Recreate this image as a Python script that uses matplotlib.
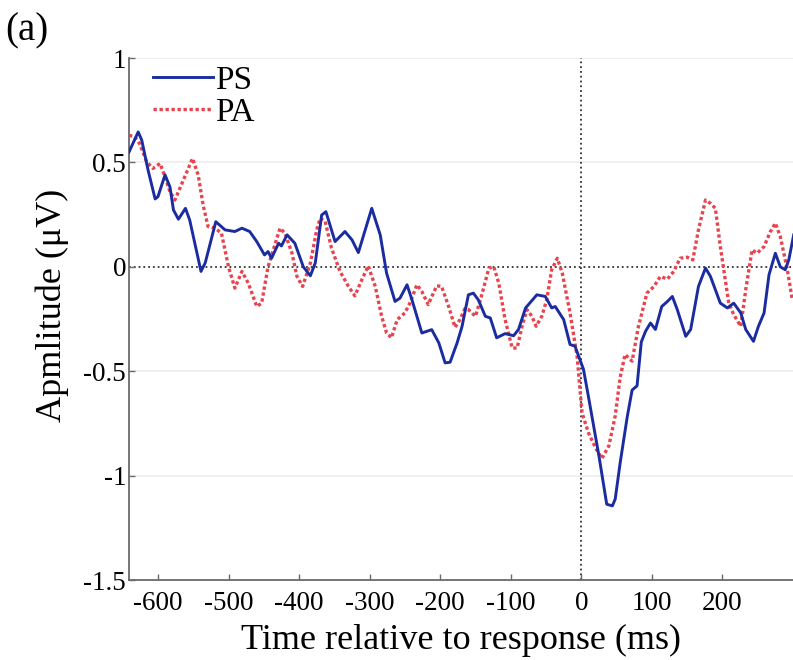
import matplotlib
matplotlib.use("Agg")
import matplotlib.pyplot as plt

plt.rcParams["font.family"] = ["Liberation Serif", "DejaVu Serif"]
plt.rcParams["axes.unicode_minus"] = False

# PS waveform (ms, uV)
ps_t = [-641, -628, -623, -614, -604, -600, -590, -583, -578, -571, -561, -555,
        -539, -533, -518, -505, -491, -481, -470, -460, -449, -444, -439, -429,
        -425, -417, -406, -394, -384, -377, -368, -362, -349, -335, -325, -316,
        -297, -285, -276, -264, -257, -247, -240, -226, -212, -202, -193, -186,
        -176, -169, -160, -153, -146, -136, -129, -120, -108, -96, -89, -79,
        -63, -51, -42, -37, -25, -16, -9, 3, 10, 25, 36, 44, 48, 55, 65, 72,
        79, 85, 91, 98, 105, 114, 122, 129, 136, 148, 155, 166, 176, 183, 197,
        207, 216, 226, 233, 244, 251, 259, 266, 275, 282, 289, 294, 301]
ps_v = [0.55, 0.646, 0.607, 0.463, 0.325, 0.336, 0.44, 0.383, 0.272, 0.228, 0.28, 0.224,
        -0.022, 0.019, 0.216, 0.177, 0.169, 0.185, 0.169, 0.121, 0.057, 0.073, 0.041, 0.113,
        0.10, 0.153, 0.113, 0.0, -0.043, 0.019, 0.248, 0.264, 0.121, 0.169, 0.129, 0.068,
        0.28, 0.153, -0.03, -0.166, -0.15, -0.086, -0.158, -0.317, -0.301, -0.364, -0.46, -0.457,
        -0.364, -0.285, -0.134, -0.126, -0.158, -0.237, -0.245, -0.34, -0.32, -0.33, -0.30, -0.197,
        -0.134, -0.142, -0.197, -0.19, -0.253, -0.372, -0.38, -0.49, -0.62, -0.906, -1.137, -1.145,
        -1.113, -0.94, -0.72, -0.59, -0.57, -0.36, -0.309, -0.269, -0.30, -0.19, -0.166, -0.142,
        -0.205, -0.333, -0.30, -0.094, -0.006, -0.046, -0.174, -0.197, -0.174, -0.221, -0.30,
        -0.357, -0.285, -0.221, -0.038, 0.065, 0.0, -0.014, 0.033, 0.153]

# PA waveform (ms, uV)
pa_t = [-641, -633, -626, -616, -607, -597, -590, -583, -576, -564, -551, -543,
        -536, -529, -519, -510, -500, -491, -481, -472, -460, -453, -444, -427,
        -420, -410, -403, -395, -384, -375, -370, -363, -354, -342, -330, -321,
        -311, -302, -292, -283, -276, -269, -261, -250, -243, -233, -226, -217,
        -205, -198, -188, -179, -172, -165, -160, -150, -141, -131, -124, -117,
        -108, -98, -91, -84, -77, -70, -64, -56, -49, -42, -34, -27, -16, -6,
        1, 10, 20, 29, 39, 48, 55, 62, 72, 81, 93, 103, 112, 122, 131, 140, 150,
        158, 166, 176, 183, 190, 197, 204, 209, 216, 226, 233, 242, 249, 259,
        268, 275, 282, 292, 299]
pa_v = [0.63, 0.622, 0.59, 0.503, 0.471, 0.495, 0.431, 0.36, 0.32, 0.415, 0.519, 0.44,
        0.296, 0.193, 0.185, 0.161, 0.0, -0.102, -0.022, -0.078, -0.19, -0.174, 0.0, 0.185,
        0.161, 0.065, -0.046, -0.094, 0.018, 0.177, 0.233, 0.217, 0.089, -0.022, -0.094, -0.139,
        -0.062, 0.005, -0.094, -0.237, -0.317, -0.34, -0.253, -0.221, -0.174, -0.086, -0.118, -0.181,
        -0.091, -0.094, -0.19, -0.29, -0.253, -0.2, -0.205, -0.237, -0.134, -0.006, 0.0, -0.078,
        -0.253, -0.389, -0.389, -0.285, -0.205, -0.237, -0.285, -0.237, -0.158, -0.014, 0.041, -0.03,
        -0.221, -0.428, -0.699, -0.794, -0.866, -0.918, -0.858, -0.715, -0.53, -0.42, -0.452, -0.285,
        -0.126, -0.094, -0.046, -0.059, -0.022, 0.041, 0.046, 0.033, 0.177, 0.32, 0.304, 0.28,
        0.097, -0.062, -0.174, -0.229, -0.285, -0.11, 0.081, 0.065, 0.097, 0.169, 0.209, 0.145,
        -0.014, -0.158]

x_ticks = [-600, -500, -400, -300, -200, -100, 0, 100, 200]
y_ticks = [-1.5, -1, -0.5, 0, 0.5, 1]
y_labels = ["-1.5", "-1", "-0.5", "0", "0.5", "1"]

fig = plt.figure(figsize=(7.93, 6.6), dpi=100)
ax = fig.add_axes([0.1627, 0.1212, 0.8373, 0.7909])

# light grid at y ticks
for yv in [1, 0.5, -0.5, -1]:
    ax.axhline(yv, color="#ececec", lw=1.2, zorder=0)

ax.axhline(0, color="#333333", lw=1.3, ls=":", zorder=1)
ax.axvline(0, color="#333333", lw=1.3, ls=":", zorder=1)

ax.plot(ps_t, ps_v, color="#1b2ca0", lw=2.1, label="PS", zorder=3)
ax.plot(pa_t, pa_v, color="#e8434f", lw=2.4, ls=(0, (1, 0.8)), label="PA", zorder=2)

ax.set_xlim(-641, 300)
ax.set_ylim(-1.5, 1)
ax.set_xticks(x_ticks)
ax.set_yticks(y_ticks)
ax.set_yticklabels(y_labels)

for s in ["top", "right"]:
    ax.spines[s].set_visible(False)
for s in ["left", "bottom"]:
    ax.spines[s].set_color("#6a6a6a")
    ax.spines[s].set_linewidth(1.3)

ax.tick_params(direction="in", length=4, width=1, color="#6a6a6a",
               labelsize=19.5, pad=2)
ax.tick_params(axis="x", pad=8)

ax.set_xlabel("Time relative to response (ms)", fontsize=26)
ax.xaxis.set_label_coords(0.5, -0.085)
ax.set_ylabel("Apmlitude (\u03bcV)", fontsize=26)
ax.yaxis.set_label_coords(-0.0905, 0.527)

leg = ax.legend(loc="upper left", bbox_to_anchor=(0.016, 1.012), frameon=False,
                fontsize=24, handlelength=1.8, handletextpad=0.05,
                labelspacing=0.05, borderaxespad=0)

fig.text(0.007, 1 - 31 / 660, "(a)", fontsize=28, va="center", ha="left")

plt.savefig("out.png", dpi=100)
